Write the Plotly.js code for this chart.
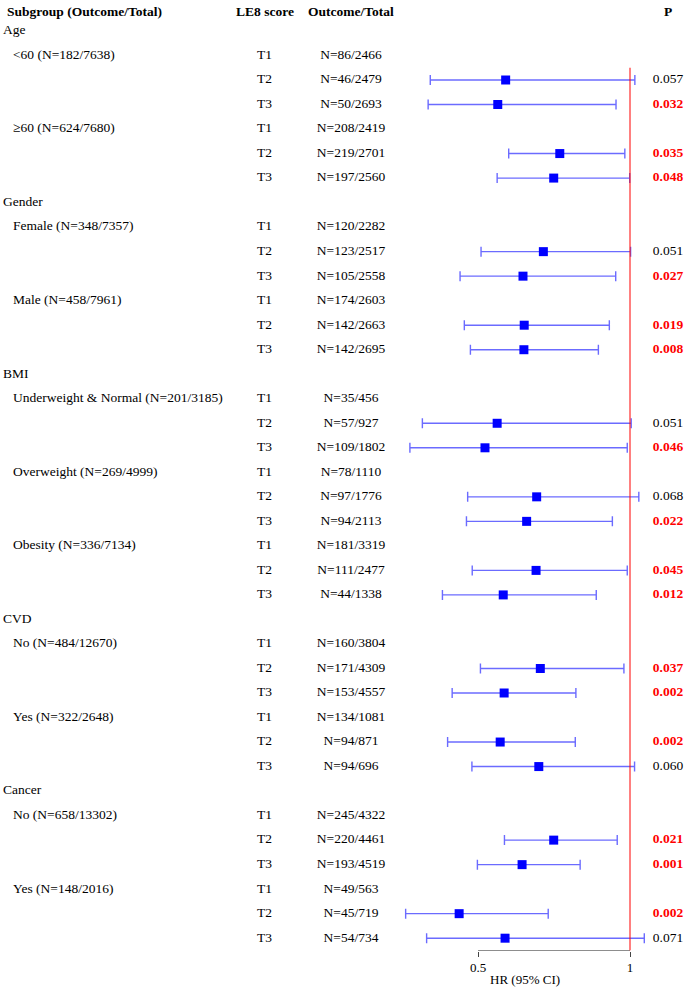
<!DOCTYPE html>
<html><head><meta charset="utf-8">
<script src="https://cdn.plot.ly/plotly-3.0.1.min.js"></script>
<style>html,body{margin:0;padding:0;background:#fff}</style>
</head><body><div id="chart" style="width:685px;height:988px"></div>
<script>
// ---------- data ----------
const groupNames = ['Age', 'Gender', 'BMI', 'CVD', 'Cancer'];
const subgroupGroup = [0, 0, 1, 1, 2, 2, 2, 3, 3, 4, 4];
const subgroupLabels = [
  '<60 (N=182/7638)', '≥60 (N=624/7680)',
  'Female (N=348/7357)', 'Male (N=458/7961)',
  'Underweight & Normal (N=201/3185)', 'Overweight (N=269/4999)', 'Obesity (N=336/7134)',
  'No (N=484/12670)', 'Yes (N=322/2648)',
  'No (N=658/13302)', 'Yes (N=148/2016)'
];
const tertileLabels = ['T1', 'T2', 'T3'];
const outcomeTotal = [
  'N=86/2466', 'N=46/2479', 'N=50/2693',
  'N=208/2419', 'N=219/2701', 'N=197/2560',
  'N=120/2282', 'N=123/2517', 'N=105/2558',
  'N=174/2603', 'N=142/2663', 'N=142/2695',
  'N=35/456', 'N=57/927', 'N=109/1802',
  'N=78/1110', 'N=97/1776', 'N=94/2113',
  'N=181/3319', 'N=111/2477', 'N=44/1338',
  'N=160/3804', 'N=171/4309', 'N=153/4557',
  'N=134/1081', 'N=94/871', 'N=94/696',
  'N=245/4322', 'N=220/4461', 'N=193/4519',
  'N=49/563', 'N=45/719', 'N=54/734'
];
const hr = [
  null, 0.591, 0.565,
  null, 0.769, 0.749,
  null, 0.715, 0.648,
  null, 0.652, 0.651,
  null, 0.563, 0.523,
  null, 0.693, 0.660,
  null, 0.691, 0.583,
  null, 0.705, 0.586,
  null, 0.573, 0.700,
  null, 0.749, 0.645,
  null, 0.438, 0.589
];
const ciLow = [
  null, 0.343, 0.336,
  null, 0.601, 0.563,
  null, 0.510, 0.441,
  null, 0.455, 0.475,
  null, 0.317, 0.276,
  null, 0.466, 0.462,
  null, 0.481, 0.383,
  null, 0.508, 0.415,
  null, 0.400, 0.480,
  null, 0.587, 0.498,
  null, 0.262, 0.331
];
const ciHigh = [
  null, 1.016, 0.954,
  null, 0.983, 0.999,
  null, 1.002, 0.953,
  null, 0.932, 0.896,
  null, 1.004, 0.991,
  null, 1.029, 0.942,
  null, 0.991, 0.889,
  null, 0.980, 0.822,
  null, 0.820, 1.015,
  null, 0.958, 0.836,
  null, 0.731, 1.047
];
const pValues = [
  '', '0.057', '0.032',
  '', '0.035', '0.048',
  '', '0.051', '0.027',
  '', '0.019', '0.008',
  '', '0.051', '0.046',
  '', '0.068', '0.022',
  '', '0.045', '0.012',
  '', '0.037', '0.002',
  '', '0.002', '0.060',
  '', '0.021', '0.001',
  '', '0.002', '0.071'
];
const headers = ['Subgroup (Outcome/Total)', 'LE8 score', 'Outcome/Total', 'P'];
const refLine = 1;
const xTicks = [0.5, 1];
const xTitle = 'HR (95% CI)';

// ---------- build rows ----------
const FONT = 'Liberation Serif, Times New Roman, serif';
const groupRows = [], subRows = [], subRowLabels = [], tRows = [];
let r = 1;
groupNames.forEach((g, gi) => {
  groupRows.push(r); r++;
  subgroupLabels.forEach((s, si) => {
    if (subgroupGroup[si] !== gi) return;
    subRows.push(r); subRowLabels.push(s);
    for (let k = 0; k < 3; k++) { tRows.push(r); r++; }
  });
});
const lastRow = r - 1;

// forest points
const fx = [], fy = [], eP = [], eM = [];
hr.forEach((v, i) => {
  if (v === null) return;
  fx.push(v); fy.push(tRows[i]);
  eP.push(ciHigh[i] - v); eM.push(v - ciLow[i]);
});

// p values split by significance
const sigX = [], sigY = [], sigT = [], nsX = [], nsY = [], nsT = [];
pValues.forEach((p, i) => {
  if (!p) return;
  if (parseFloat(p) < 0.05) { sigY.push(tRows[i]); sigT.push(p); }
  else { nsY.push(tRows[i]); nsT.push(p); }
});

const COL = {group: 3, sub: 13, t: 264.5, n: 351, p: 668};
const txt = (xs, ys, texts, pos, extra) => Object.assign({
  type: 'scatter', mode: 'text', x: xs, y: ys, text: texts,
  textposition: pos, xaxis: 'x2', yaxis: 'y', hoverinfo: 'skip', cliponaxis: false,
  textfont: {family: FONT, size: 13.5, color: '#000'}
}, extra || {});

const traces = [
  {
    type: 'scatter', mode: 'markers', x: fx, y: fy, xaxis: 'x', yaxis: 'y',
    marker: {symbol: 'square', size: 9, color: '#0000FF'},
    error_x: {type: 'data', symmetric: false, array: eP, arrayminus: eM,
              color: 'rgba(70,70,255,0.8)', thickness: 1.4, width: 5},
    cliponaxis: false, hoverinfo: 'skip'
  },
  txt(groupRows.map(() => COL.group), groupRows, groupNames, 'middle right'),
  txt(subRows.map(() => COL.sub), subRows, subRowLabels, 'middle right'),
  txt(tRows.map(() => COL.t), tRows, tRows.map((_, i) => tertileLabels[i % 3]), 'middle center'),
  txt(tRows.map(() => COL.n), tRows, outcomeTotal, 'middle center'),
  txt(nsY.map(() => COL.p), nsY, nsT, 'middle center'),
  txt(sigY.map(() => COL.p), sigY, sigT.map(t => '<b>' + t + '</b>'), 'middle center',
      {textfont: {family: FONT, size: 13.5, color: '#FF0000'}})
];

const yTop = -0.2626, yBot = 38.51;
const headerY = 0.21;
const headerX = [5, COL.t, COL.n, COL.p];
const headerAnchor = ['left', 'center', 'center', 'center'];
const annotations = headers.map((h, i) => ({
  text: '<b>' + h + '</b>', x: headerX[i], y: headerY, xref: 'x2', yref: 'y',
  xanchor: headerAnchor[i], yanchor: 'middle', showarrow: false,
  font: {family: FONT, size: 13.5, color: '#000'}
}));
annotations.push({
  text: xTitle, x: 0.6546, y: 0.0081, xref: 'x', yref: 'paper',
  xanchor: 'center', yanchor: 'middle', showarrow: false,
  font: {family: FONT, size: 13, color: '#000'}
});

const layout = {
  width: 685, height: 988, margin: {l: 0, r: 0, t: 0, b: 0},
  paper_bgcolor: '#fff', plot_bgcolor: '#fff', showlegend: false,
  xaxis: {domain: [0, 1], range: [1 - 630 / 304, 1 + 55 / 304], tickvals: xTicks,
          ticktext: xTicks.map(String), ticks: 'outside', ticklen: 5, tickwidth: 1,
          tickcolor: '#444', showgrid: false, zeroline: false, showline: false,
          tickfont: {family: FONT, size: 13, color: '#000'}, fixedrange: true},
  xaxis2: {overlaying: 'x', anchor: 'y', range: [0, 685], visible: false, fixedrange: true},
  yaxis: {domain: [(988 - 950.7) / 988, 1], range: [yBot, yTop], visible: false, fixedrange: true},
  shapes: [
    {type: 'line', xref: 'x', yref: 'y', x0: xTicks[0], x1: xTicks[xTicks.length - 1],
     y0: yBot, y1: yBot, line: {color: '#444', width: 1}},
    {type: 'line', xref: 'x', yref: 'y', x0: refLine, x1: refLine,
     y0: 2.5, y1: lastRow + 0.5, line: {color: '#FF0000', width: 1}}
  ],
  annotations: annotations
};

Plotly.newPlot('chart', traces, layout, {displayModeBar: false, staticPlot: true});
</script>
</body></html>
